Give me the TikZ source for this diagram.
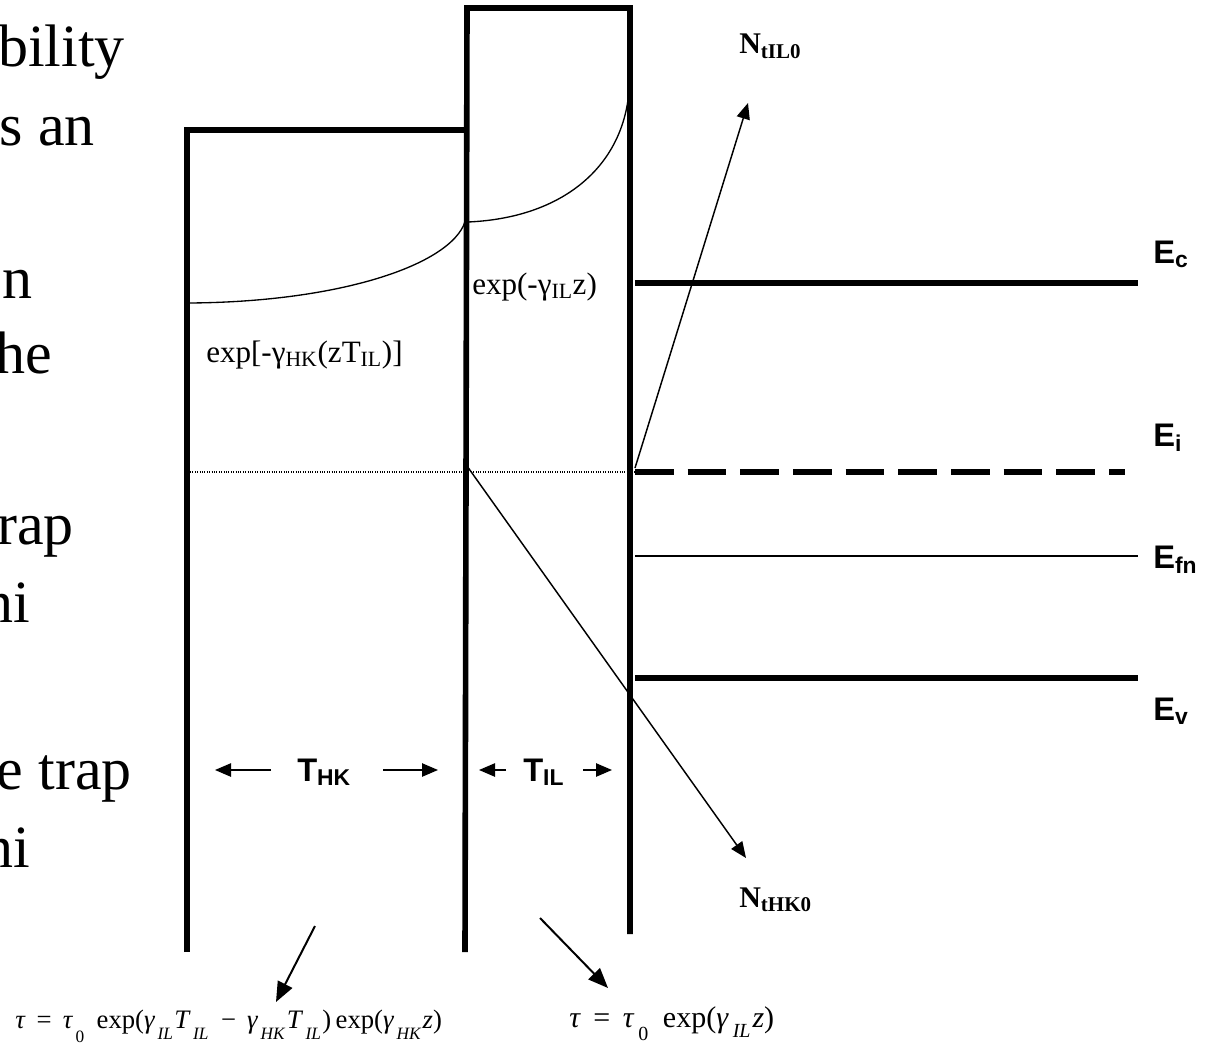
\documentclass[tikz,border=0pt]{standalone}
\usepackage{fontspec}
\setmainfont{Liberation Serif}
\setsansfont{Liberation Sans}
\usetikzlibrary{arrows.meta,positioning,calc}
\newcommand{\lowsub}[2][8.5pt]{\kern1.8pt\raisebox{-#1}{\fontsize{13}{14}\selectfont #2}\kern1pt}
\newcommand{\lowsubr}[2][7.5pt]{\kern3pt\raisebox{-#1}{\fontsize{15}{16}\selectfont #2}\kern1.5pt}
\begin{document}
\begin{tikzpicture}[
  x=0.75pt,y=-0.75pt,
  band/.style={line width=3.8pt},
  wall/.style={line width=4.2pt},
  thin line/.style={line width=1pt},
  arrow/.style={-{Stealth[length=12pt,width=10pt,inset=0pt]},line width=1.1pt},
  bigarrow/.style={-{Stealth[length=15pt,width=12pt,inset=0pt]},line width=1.5pt},
  body/.style={anchor=base east,inner sep=0pt,font=\fontsize{45}{50}\selectfont},
  serif label/.style={anchor=base west,inner sep=0pt,font=\fontsize{23.3}{25}\selectfont},
  bold label/.style={anchor=base west,inner sep=0pt,font=\bfseries\fontsize{22.5}{25}\selectfont},
  band label/.style={anchor=base west,inner sep=0pt,font=\sffamily\bfseries\fontsize{24.5}{25}\selectfont},
  formula/.style={anchor=base west,inner sep=0pt}
]
\useasboundingbox (0,0) rectangle (1207,1049);
% text cut off by the diagram
\node[body] (line1) at (125,67) {bility};
\node[body] (line2) at (95,145) {s an};
\node[body] (line3) at (33,298) {n};
\node[body] (line4) at (52,373) {he};
\node[body] (line5) at (74,544) {rap};
\node[body] (line6) at (30,622) {ni};
\node[body] (line7) at (132,789) {e trap};
\node[body] (line8) at (30,867) {ni};
% walls
\coordinate (hkbot) at (187,952);
\coordinate (hktop) at (187,130);
\coordinate (hkend) at (466,130);
\coordinate (midbot) at (465,952);
\coordinate (midtop) at (467,8);
\coordinate (iltop) at (630,8);
\coordinate (ilbot) at (630,934);
\draw[wall,line join=miter] (hkbot) -- (hktop) -- (hkend);
\draw[wall,line join=miter] (midbot) -- (midtop) -- (iltop) -- (ilbot);
% bands
\coordinate (ecl) at (635,283);
\coordinate (ecr) at (1138,283);
\coordinate (eil) at (635,472);
\coordinate (eir) at (1125,472);
\coordinate (efl) at (635,556);
\coordinate (efr) at (1138,556);
\coordinate (evl) at (635,678);
\coordinate (evr) at (1138,678);
\coordinate (dotl) at (190,472);
\draw[band] (ecl) -- (ecr);
\draw[band,dash pattern=on 29pt off 10.5pt] (eil) -- (eir);
\draw[thin line] (efl) -- (efr);
\draw[band] (evl) -- (evr);
\draw[line width=0.8pt,densely dotted] (dotl) -- (eil);
% decay curves
\coordinate (c1) at (189,303);
\coordinate (c2) at (465,222);
\coordinate (c3) at (468,222);
\coordinate (c4) at (628,100);
\draw[thin line] (c1) .. controls (340,302) and (450,265) .. (c2);
\draw[thin line] (c3) .. controls (560,218) and (618,170) .. (c4);
% trap arrows
\coordinate (ilstart) at (635,468);
\coordinate (ilend) at (748,103);
\coordinate (hkstart) at (467,466);
\coordinate (hkstop) at (746,858);
\draw[arrow] (ilstart) -- (ilend);
\draw[arrow] (hkstart) -- (hkstop);
% thickness labels
\node[band label] (thk) at (297,781) {T\textsubscript{HK}};
\node[band label] (til) at (523,781) {T\textsubscript{IL}};
\coordinate (thka) at (215,770);
\coordinate (thkb) at (271,770);
\coordinate (thkc) at (383,770);
\coordinate (thkd) at (438,770);
\coordinate (tila) at (479,770);
\coordinate (tilb) at (506,770);
\coordinate (tilc) at (583,770);
\coordinate (tild) at (612,770);
\draw[arrow] (thkb) -- (thka);
\draw[arrow] (thkc) -- (thkd);
\draw[arrow] (tilb) -- (tila);
\draw[arrow] (tilc) -- (tild);
% labels
\node[serif label] (exphk) at (206,362) {exp[-γ\textsubscript{HK}(zT\textsubscript{IL})]};
\node[serif label] (expil) at (472,294) {exp(-γ\textsubscript{IL}z)};
\node[bold label] (ntil) at (739,54) {N\textsubscript{tIL0}};
\node[bold label] (nthk) at (739,907) {N\textsubscript{tHK0}};
\node[band label] (ec) at (1153,263) {E\textsubscript{c}};
\node[band label] (ei) at (1153,446) {E\textsubscript{i}};
\node[band label] (efn) at (1153,568) {E\textsubscript{fn}};
\node[band label] (ev) at (1153,720) {E\textsubscript{v}};
% formulas
\node[formula,font=\fontsize{20}{22}\selectfont] (tauhk) at (15,1028) {\textit{τ} \,=\, \textit{τ}\lowsub[11pt]{0}\, exp(\textit{γ}\lowsub{\textit{IL}}\textit{T}\lowsub{\textit{IL}}\, −\, \textit{γ}\lowsub{\textit{HK}}\textit{T}\lowsub{\textit{IL}})\,exp(\textit{γ}\lowsub{\textit{HK}}\textit{z})};
\node[formula,font=\fontsize{22.5}{24}\selectfont] (tauil) at (569,1027) {\textit{τ} \,=\, \textit{τ}\lowsubr[10pt]{0}\, exp(\textit{γ}\lowsubr{\textit{IL}}\textit{z})};
\coordinate (hka) at (315,926);
\coordinate (hkb) at (276,1002);
\coordinate (ila) at (540,918);
\coordinate (ilb) at (608,988);
\draw[bigarrow] (hka) -- (hkb);
\draw[bigarrow] (ila) -- (ilb);
\end{tikzpicture}
\end{document}
